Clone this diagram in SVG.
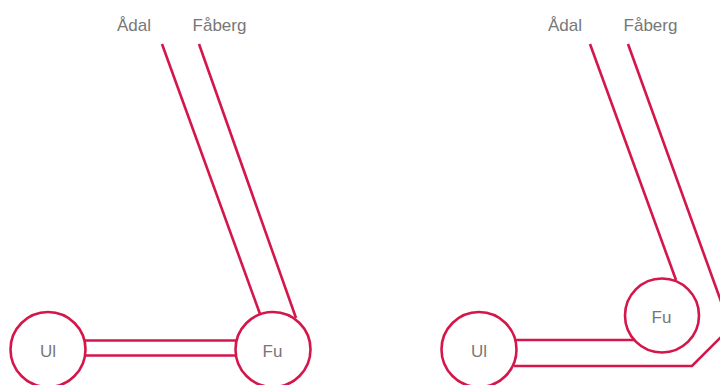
<svg xmlns="http://www.w3.org/2000/svg" width="720" height="385" viewBox="0 0 720 385">
<style>
.ln{fill:none;stroke:#d4164a;stroke-width:2.6;stroke-linejoin:miter}
.nd{fill:#fff;stroke:#d4164a;stroke-width:2.6}
.t{font-family:"Liberation Sans",Arial,sans-serif;font-size:17px;fill:#777;text-anchor:middle}
</style>
<rect width="720" height="385" fill="#fff"/>
<g id="connectors">
<line class="ln" x1="162" y1="44" x2="260" y2="314"/>
<line class="ln" x1="199" y1="44" x2="296" y2="318"/>
<line class="ln" x1="85" y1="340.5" x2="236" y2="340.5"/>
<line class="ln" x1="85" y1="355.5" x2="236" y2="355.5"/>
<line class="ln" x1="590" y1="44" x2="676" y2="280"/>
<polyline class="ln" points="628,44 740,354"/>
<line class="ln" x1="515" y1="340" x2="634" y2="340"/>
<polyline class="ln" points="514,366 692,366 730,328"/>
</g>
<g id="label-adal-1"><text class="t" x="134" y="31">Ådal</text></g>
<g id="label-faberg-1"><text class="t" x="219.5" y="31">Fåberg</text></g>
<g id="label-adal-2"><text class="t" x="565" y="31">Ådal</text></g>
<g id="label-faberg-2"><text class="t" x="650.5" y="31">Fåberg</text></g>
<g id="node-ul-1"><circle class="nd" cx="48" cy="349.5" r="37.5"/><text class="t" x="48" y="356.5">Ul</text></g>
<g id="node-fu-1"><circle class="nd" cx="273" cy="349.5" r="37.5"/><text class="t" x="272.5" y="356.5">Fu</text></g>
<g id="node-ul-2"><circle class="nd" cx="479" cy="349.5" r="37.5"/><text class="t" x="479" y="356.5">Ul</text></g>
<g id="node-fu-2"><circle class="nd" cx="662" cy="315.5" r="37"/><text class="t" x="661.5" y="322.5">Fu</text></g>
</svg>
